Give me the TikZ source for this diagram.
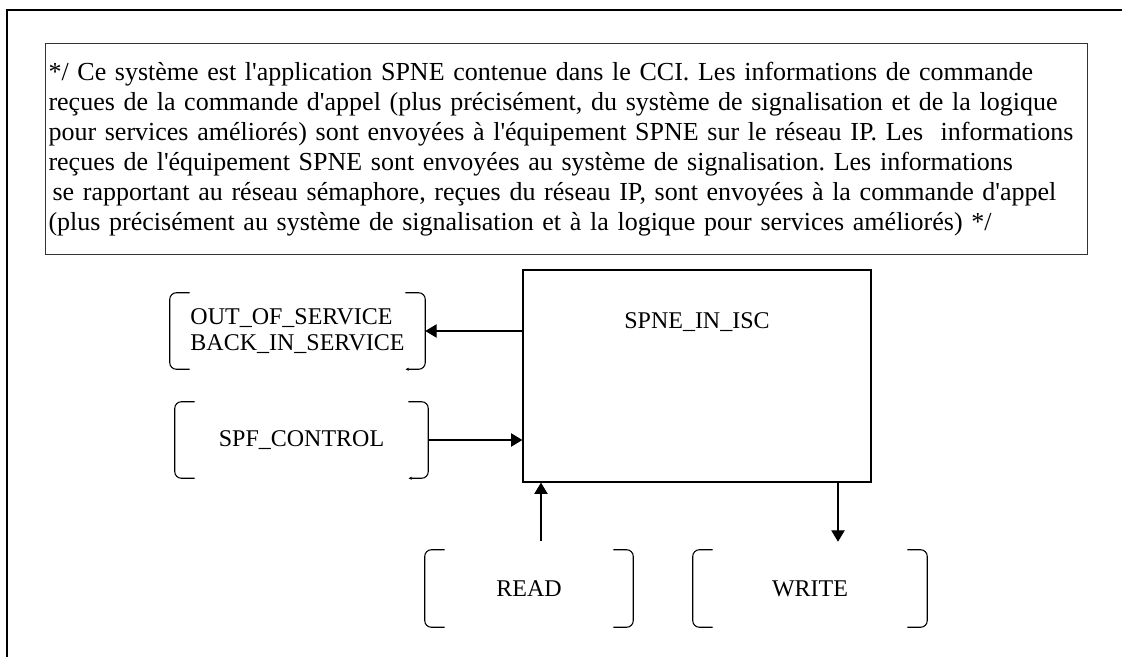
\documentclass[tikz,border=0pt]{standalone}
\usepackage{fontspec}
\setmainfont{Liberation Serif}[Ligatures=TeXOff]
\usetikzlibrary{arrows.meta, positioning}
\tikzset{>={Triangle[length=8.5pt, width=10pt]}}
\frenchspacing

% the two curved brackets round a signal node
\newcommand{\brackets}[2][]{%
  \draw[bracketline] ([xshift=15pt]#2.north west) -- (#2.north west) -- (#2.south west) -- ([xshift=15pt]#2.south west);
  \draw[bracketline, #1] ([xshift=-15pt]#2.north east) -- (#2.north east) -- (#2.south east) -- ([xshift=-15pt]#2.south east);}

\begin{document}
\begin{tikzpicture}[
  x=0.75pt, y=-0.75pt,
  comment/.style={draw=black!80, line width=0.8pt, anchor=north west, minimum width=781.5pt, minimum height=158.25pt, text width=777pt, inner sep=2pt, align=left, font=\fontsize{19.5}{22.5}\selectfont},
  block/.style={draw, line width=0.9pt, minimum width=261pt, minimum height=159pt},
  signal/.style={minimum height=57pt, inner sep=0pt, align=left, font=\fontsize{18}{20}\selectfont},
  bracketline/.style={line width=0.8pt, rounded corners=5pt},
  tail/.style={-{Latex[length=2.5pt, width=2.5pt]}},
  flow/.style={->, line width=0.8pt}
]
\useasboundingbox (0,0) rectangle (1122,657);

% outer frame (top and left only)
\draw[line width=1pt] (7,657) -- (7,10) -- (1122,10);

% comment box
\node[comment] (note) at (45,43) {*/ Ce système est l'application SPNE contenue dans le CCI. Les informations de commande\\
reçues de la commande d'appel (plus précisément, du système de signalisation et de la logique\\
pour services améliorés) sont envoyées à l'équipement SPNE sur le réseau IP. Les\ \ informations\\
reçues de l'équipement SPNE sont envoyées au système de signalisation. Les informations\\
\hspace*{3pt}se rapportant au réseau sémaphore, reçues du réseau IP, sont envoyées à la commande d'appel\\
(plus précisément au système de signalisation et à la logique pour services améliorés) */};

% process
\node[block] (main) at (697,376) {};
\node[font=\fontsize{18}{20}\selectfont] (maintitle) at ([yshift=40.5pt]main.center) {SPNE\_IN\_ISC};

% signals
\node[signal, minimum width=191.25pt] (oos) at (297.5,331) {OUT\_OF\_SERVICE\\BACK\_IN\_SERVICE};
\node[signal, minimum width=189.75pt] (spf) at (301.5,440) {SPF\_CONTROL};
\node[signal, minimum width=156pt, minimum height=57.75pt] (read) at (529,588.5) {READ};
\node[signal, minimum width=175.5pt, minimum height=57.75pt] (write) at (810,588.5) {WRITE};
\brackets[tail]{oos}
\brackets[tail]{spf}
\brackets{read}
\brackets{write}

% flows
\draw[flow] (main.west |- oos.east) -- (oos.east);
\draw[flow] (spf.east) -- (spf.east -| main.west);
\coordinate (rtail) at ([shift={(12,-9)}]read.north);
\draw[flow] (rtail) -- (rtail |- main.south);
\coordinate (whead) at ([shift={(28,-8)}]write.north);
\draw[flow] (main.south -| whead) -- (whead);

\end{tikzpicture}
\end{document}
